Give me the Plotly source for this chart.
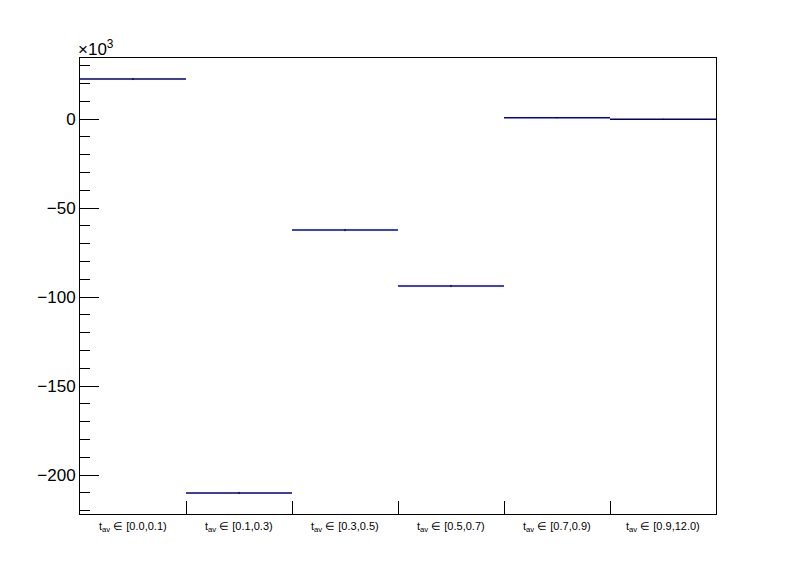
import plotly.graph_objects as go

bin_labels = ["[0.0,0.1)", "[0.1,0.3)", "[0.3,0.5)", "[0.5,0.7)", "[0.7,0.9)", "[0.9,12.0)"]
values_k = [22.5, -210.1, -62.4, -93.8, 0.7, -0.1]   # in units of 10^3
errors_k = [0.6, 0.6, 0.6, 0.6, 0.3, 0.3]
colors = ["#000070", "#000070", "#0000b8", "#0000b8", "#0000b8", "#000070"]

y_major = [-200, -150, -100, -50, 0]
y_major_text = ["\u2212200", "\u2212150", "\u2212100", "\u221250", "0"]

fig = go.Figure()
for i, (v, e, c) in enumerate(zip(values_k, errors_k, colors)):
    fig.add_trace(go.Scatter(x=[i, i + 1], y=[v, v], mode="lines",
                             line=dict(color=c, width=1.5), showlegend=False, hoverinfo="skip"))
    fig.add_trace(go.Scatter(x=[i + 0.5], y=[v], mode="markers",
                             marker=dict(size=2, color=c, opacity=0),
                             error_y=dict(type="data", array=[e], color="#000000", thickness=1, width=0),
                             showlegend=False, hoverinfo="skip"))

for i, lab in enumerate(bin_labels):
    fig.add_annotation(x=i + 0.5, y=0, xref="x", yref="paper", yshift=-4,
                       text="t<sub>av</sub> \u2208 " + lab, showarrow=False, yanchor="top",
                       font=dict(size=11, color="black"))

fig.add_annotation(x=0, y=1, xref="paper", yref="paper", xanchor="left", yanchor="bottom",
                   xshift=-4, yshift=-3,
                   text="\u00d710<sup>3</sup>", showarrow=False, font=dict(size=17, color="black"))

fig.update_layout(
    width=796, height=572,
    margin=dict(l=72, r=88, t=50, b=66),
    paper_bgcolor="white", plot_bgcolor="white",
    font=dict(family="Liberation Sans, Arial, sans-serif", color="black"),
    xaxis=dict(range=[0, 6], showgrid=False, zeroline=False, showline=True, mirror=True,
               linecolor="black", linewidth=1, ticks="inside", ticklen=13, tickcolor="black",
               tickvals=[1, 2, 3, 4, 5], showticklabels=False),
    yaxis=dict(range=[-221.9, 34.3], showgrid=False, zeroline=False, showline=True, mirror=True,
               linecolor="black", linewidth=1, ticks="inside", ticklen=19, tickcolor="black",
               tickvals=y_major, ticktext=y_major_text, tickfont=dict(size=17),
               minor=dict(ticks="inside", ticklen=10, tickcolor="black", dtick=10, tick0=0)),
)

fig.write_html("out.html")
